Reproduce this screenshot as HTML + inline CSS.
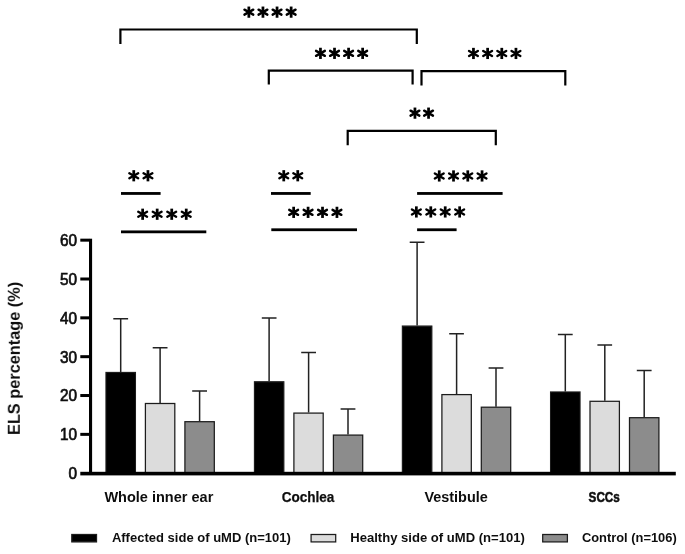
<!DOCTYPE html>
<html><head><meta charset="utf-8"><title>ELS percentage</title>
<style>
html,body{margin:0;padding:0;background:#fff;}
body{width:685px;height:554px;overflow:hidden;font-family:"Liberation Sans",sans-serif;}
svg{display:block;}
text{font-family:"Liberation Sans",sans-serif;font-weight:bold;fill:#111;}
text.tk{font-weight:normal;text-anchor:end;stroke:#111;stroke-width:0.7px;}
</style></head><body>
<svg width="685" height="554" viewBox="0 0 685 554">
<defs>
<g id="ast" stroke="#000" stroke-width="2.75" stroke-linecap="butt" fill="none">
<line x1="0" y1="-5.6" x2="0" y2="5.6"/>
<line x1="-4.4" y1="-2.5" x2="4.4" y2="2.5" stroke-width="2.4" stroke-linecap="round"/>
<line x1="-4.4" y1="2.5" x2="4.4" y2="-2.5" stroke-width="2.4" stroke-linecap="round"/>
</g>
<filter id="soft" x="0" y="0" width="685" height="554" filterUnits="userSpaceOnUse"><feGaussianBlur stdDeviation="0.35"/></filter>
</defs>
<rect width="685" height="554" fill="#fff"/>
<g id="chart" filter="url(#soft)">

<path d="M120.7 372.0V318.7M113.3 318.7H128.1" stroke="#222" stroke-width="1.5" fill="none"/>
<path d="M160.1 403.0V347.8M152.7 347.8H167.5" stroke="#222" stroke-width="1.5" fill="none"/>
<path d="M199.6 421.2V391.0M192.2 391.0H207.0" stroke="#222" stroke-width="1.5" fill="none"/>
<path d="M269.1 381.3V318.0M261.8 318.0H276.5" stroke="#222" stroke-width="1.5" fill="none"/>
<path d="M308.6 412.6V352.6M301.2 352.6H316.0" stroke="#222" stroke-width="1.5" fill="none"/>
<path d="M348.0 434.6V409.1M340.6 409.1H355.4" stroke="#222" stroke-width="1.5" fill="none"/>
<path d="M417.1 325.6V242.3M409.7 242.3H424.5" stroke="#222" stroke-width="1.5" fill="none"/>
<path d="M456.6 394.1V333.7M449.2 333.7H463.9" stroke="#222" stroke-width="1.5" fill="none"/>
<path d="M496.0 406.7V368.0M488.6 368.0H503.4" stroke="#222" stroke-width="1.5" fill="none"/>
<path d="M565.3 391.5V334.4M557.9 334.4H572.7" stroke="#222" stroke-width="1.5" fill="none"/>
<path d="M604.8 400.8V344.9M597.4 344.9H612.1" stroke="#222" stroke-width="1.5" fill="none"/>
<path d="M644.2 417.2V370.6M636.8 370.6H651.6" stroke="#222" stroke-width="1.5" fill="none"/>
<rect x="106.0" y="372.5" width="29.4" height="101.2" fill="#000" stroke="#1c1c1c" stroke-width="1.25"/>
<rect x="145.4" y="403.5" width="29.4" height="70.2" fill="#dcdcdc" stroke="#1c1c1c" stroke-width="1.25"/>
<rect x="184.9" y="421.7" width="29.4" height="52.0" fill="#8c8c8c" stroke="#1c1c1c" stroke-width="1.25"/>
<rect x="254.5" y="381.8" width="29.3" height="91.9" fill="#000" stroke="#1c1c1c" stroke-width="1.25"/>
<rect x="293.9" y="413.1" width="29.3" height="60.6" fill="#dcdcdc" stroke="#1c1c1c" stroke-width="1.25"/>
<rect x="333.4" y="435.1" width="29.3" height="38.6" fill="#8c8c8c" stroke="#1c1c1c" stroke-width="1.25"/>
<rect x="402.4" y="326.1" width="29.4" height="147.6" fill="#000" stroke="#1c1c1c" stroke-width="1.25"/>
<rect x="441.9" y="394.6" width="29.4" height="79.1" fill="#dcdcdc" stroke="#1c1c1c" stroke-width="1.25"/>
<rect x="481.3" y="407.2" width="29.4" height="66.5" fill="#8c8c8c" stroke="#1c1c1c" stroke-width="1.25"/>
<rect x="550.6" y="392.0" width="29.4" height="81.7" fill="#000" stroke="#1c1c1c" stroke-width="1.25"/>
<rect x="590.0" y="401.3" width="29.4" height="72.4" fill="#dcdcdc" stroke="#1c1c1c" stroke-width="1.25"/>
<rect x="629.5" y="417.7" width="29.4" height="56.0" fill="#8c8c8c" stroke="#1c1c1c" stroke-width="1.25"/>
<rect x="89" y="238.7" width="3.1" height="236.0" fill="#000"/>
<rect x="80.3" y="471.8" width="595.5" height="3.6" fill="#000"/>
<rect x="80.3" y="432.86" width="9" height="3.0" fill="#000"/>
<rect x="80.3" y="394.02" width="9" height="3.0" fill="#000"/>
<rect x="80.3" y="355.18" width="9" height="3.0" fill="#000"/>
<rect x="80.3" y="316.34" width="9" height="3.0" fill="#000"/>
<rect x="80.3" y="277.50" width="9" height="3.0" fill="#000"/>
<rect x="80.3" y="238.66" width="9" height="3.0" fill="#000"/>
<text transform="translate(77,479.1) scale(0.93,1)" font-size="16.5" class="tk">0</text>
<text transform="translate(77,440.3) scale(0.93,1)" font-size="16.5" class="tk">10</text>
<text transform="translate(77,401.4) scale(0.93,1)" font-size="16.5" class="tk">20</text>
<text transform="translate(77,362.6) scale(0.93,1)" font-size="16.5" class="tk">30</text>
<text transform="translate(77,323.7) scale(0.93,1)" font-size="16.5" class="tk">40</text>
<text transform="translate(77,284.9) scale(0.93,1)" font-size="16.5" class="tk">50</text>
<text transform="translate(77,246.1) scale(0.93,1)" font-size="16.5" class="tk">60</text>
<text transform="translate(19.8,435) rotate(-90)" font-size="15.8" textLength="153.2" lengthAdjust="spacingAndGlyphs">ELS percentage (%)</text>
<text x="104.4" y="502.3" font-size="14.6" textLength="108.9" lengthAdjust="spacingAndGlyphs">Whole inner ear</text>
<text x="281.7" y="502.3" font-size="14.6" textLength="52.7" lengthAdjust="spacingAndGlyphs" stroke="#111" stroke-width="0.25">Cochlea</text>
<text x="424.4" y="502.3" font-size="14.6" textLength="63.4" lengthAdjust="spacingAndGlyphs">Vestibule</text>
<text x="588.6" y="502.3" font-size="14.6" textLength="31.2" lengthAdjust="spacingAndGlyphs" stroke="#111" stroke-width="0.55">SCCs</text>
<rect x="71.8" y="534.5" width="24.7" height="7.4" fill="#000" stroke="#1c1c1c" stroke-width="1.25"/>
<text x="111.9" y="542.2" font-size="13" textLength="179.0" lengthAdjust="spacingAndGlyphs">Affected side of uMD (n=101)</text>
<rect x="311.1" y="534.5" width="24.6" height="7.4" fill="#dcdcdc" stroke="#1c1c1c" stroke-width="1.25"/>
<text x="350.2" y="542.2" font-size="13" textLength="174.7" lengthAdjust="spacingAndGlyphs">Healthy side of uMD (n=101)</text>
<rect x="542.7" y="534.5" width="24.7" height="7.4" fill="#8c8c8c" stroke="#1c1c1c" stroke-width="1.25"/>
<text x="581.9" y="542.2" font-size="13" textLength="94.8" lengthAdjust="spacingAndGlyphs">Control (n=106)</text>
<rect x="121.0" y="192.05" width="39.6" height="2.8" fill="#000"/>
<use href="#ast" x="133.75" y="175.75"/>
<use href="#ast" x="147.95" y="175.75"/>
<rect x="121.0" y="230.45" width="85.3" height="2.8" fill="#000"/>
<use href="#ast" x="142.65" y="214.25"/>
<use href="#ast" x="157.18" y="214.25"/>
<use href="#ast" x="171.72" y="214.25"/>
<use href="#ast" x="186.25" y="214.25"/>
<rect x="271.0" y="192.05" width="39.7" height="2.8" fill="#000"/>
<use href="#ast" x="283.75" y="175.75"/>
<use href="#ast" x="297.75" y="175.75"/>
<rect x="271.3" y="228.35" width="85.7" height="2.8" fill="#000"/>
<use href="#ast" x="293.65" y="212.35"/>
<use href="#ast" x="308.08" y="212.35"/>
<use href="#ast" x="322.52" y="212.35"/>
<use href="#ast" x="336.95" y="212.35"/>
<rect x="417.1" y="192.05" width="85.5" height="2.8" fill="#000"/>
<use href="#ast" x="439.25" y="175.95"/>
<use href="#ast" x="453.52" y="175.95"/>
<use href="#ast" x="467.78" y="175.95"/>
<use href="#ast" x="482.05" y="175.95"/>
<rect x="417.1" y="228.35" width="39.5" height="2.8" fill="#000"/>
<use href="#ast" x="416.35" y="211.95"/>
<use href="#ast" x="430.78" y="211.95"/>
<use href="#ast" x="445.22" y="211.95"/>
<use href="#ast" x="459.65" y="211.95"/>
<path d="M120.4 43.9V29.5H416.8V43.9" stroke="#000" stroke-width="2.2" fill="none" stroke-linejoin="miter"/>
<use href="#ast" x="248.85" y="12.15"/>
<use href="#ast" x="262.95" y="12.15"/>
<use href="#ast" x="277.05" y="12.15"/>
<use href="#ast" x="291.15" y="12.15"/>
<path d="M268.8 84.6V70.6H412.6V84.6" stroke="#000" stroke-width="2.2" fill="none" stroke-linejoin="miter"/>
<use href="#ast" x="320.45" y="53.35"/>
<use href="#ast" x="334.52" y="53.35"/>
<use href="#ast" x="348.58" y="53.35"/>
<use href="#ast" x="362.65" y="53.35"/>
<path d="M421.5 85.4V71.1H565.3V85.4" stroke="#000" stroke-width="2.2" fill="none" stroke-linejoin="miter"/>
<use href="#ast" x="473.45" y="53.45"/>
<use href="#ast" x="487.62" y="53.45"/>
<use href="#ast" x="501.78" y="53.45"/>
<use href="#ast" x="515.95" y="53.45"/>
<path d="M347.7 145.2V130.8H495.8V145.2" stroke="#000" stroke-width="2.2" fill="none" stroke-linejoin="miter"/>
<use href="#ast" x="414.95" y="113.15"/>
<use href="#ast" x="428.55" y="113.15"/>
</g></svg></body></html>
